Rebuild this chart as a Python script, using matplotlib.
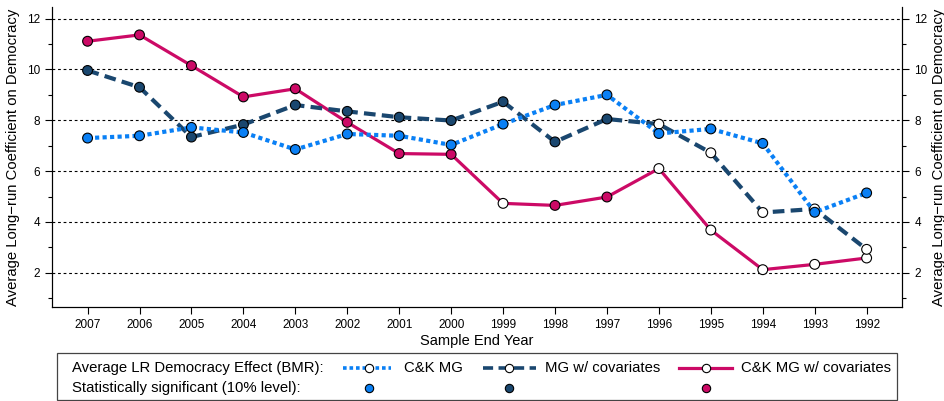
import matplotlib
matplotlib.use("Agg")
import matplotlib.pyplot as plt
from matplotlib.lines import Line2D
from matplotlib.patches import Rectangle

plt.rcParams['font.family'] = ['Liberation Sans', 'DejaVu Sans']

years = ['2007', '2006', '2005', '2004', '2003', '2002', '2001', '2000',
         '1999', '1998', '1997', '1996', '1995', '1994', '1993', '1992']

ck_mg = [7.30, 7.39, 7.72, 7.52, 6.85, 7.46, 7.39, 7.03,
         7.85, 8.60, 9.00, 7.48, 7.66, 7.09, 4.38, 5.14]
ck_mg_sig = [1, 1, 1, 1, 1, 1, 1, 1, 1, 1, 1, 1, 1, 1, 1, 1]

mg_cov = [9.96, 9.30, 7.34, 7.83, 8.60, 8.35, 8.12, 7.99,
          8.73, 7.15, 8.05, 7.85, 6.72, 4.37, 4.51, 2.92]
mg_cov_sig = [1, 1, 1, 1, 1, 1, 1, 1, 1, 1, 1, 0, 0, 0, 0, 0]

ck_mg_cov = [11.11, 11.36, 10.15, 8.92, 9.24, 7.92, 6.69, 6.66,
             4.73, 4.65, 4.98, 6.10, 3.68, 2.12, 2.33, 2.58]
ck_mg_cov_sig = [1, 1, 1, 1, 1, 1, 1, 1, 0, 1, 1, 0, 0, 0, 0, 0]

blue = '#0a80f5'
navy = '#1a476f'
red = '#cc0a66'

fig = plt.figure(figsize=(9.44, 4.01), dpi=100)
ax = fig.add_axes([0.0548, 0.2337, 0.9012, 0.7496])

x = list(range(len(years)))

series = [
    (ck_mg_cov, ck_mg_cov_sig, red, '-', 2.3),
    (mg_cov, mg_cov_sig, navy, (0, (2.8, 1.5)), 3.0),
    (ck_mg, ck_mg_sig, blue, (0, (1, 0.8)), 3.0),
]
z = 3
for vals, sig, col, ls, lw in series:
    ax.plot(x, vals, color=col, linestyle=ls, linewidth=lw, zorder=z)
    fc = [col if s else 'white' for s in sig]
    ax.scatter(x, vals, s=50, c=fc, edgecolors='black', linewidths=0.8, zorder=z + 0.5)
    z += 1

ax.set_xlim(-0.69, 15.69)
ax.set_ylim(0.64, 12.47)
ax.set_xticks(x)
ax.set_xticklabels(years, fontsize=8.5)
ax.set_yticks([2, 4, 6, 8, 10, 12])
ax.set_yticks([1, 3, 5, 7, 9, 11], minor=True)
ax.tick_params(axis='y', labelsize=8.5, length=5, width=0.8)
ax.tick_params(axis='y', which='minor', length=3, width=0.8)
ax.tick_params(axis='x', length=5, width=0.8)
ax.grid(axis='y', color='black', linestyle=(0, (2.5, 2.5)), linewidth=0.8)
ax.spines['top'].set_visible(False)
for s in ['left', 'right', 'bottom']:
    ax.spines[s].set_linewidth(0.8)

ylab = 'Average Long\u2212run Coefficient on Democracy'
ax.set_ylabel(ylab, fontsize=10.7, labelpad=5)
ax.set_xlabel('Sample End Year', fontsize=10.5, labelpad=2)

ax2 = ax.twinx()
ax2.set_ylim(ax.get_ylim())
ax2.set_yticks([2, 4, 6, 8, 10, 12])
ax2.set_yticks([1, 3, 5, 7, 9, 11], minor=True)
ax2.tick_params(axis='y', labelsize=8.5, length=5, width=0.8)
ax2.tick_params(axis='y', which='minor', length=3, width=0.8)
ax2.spines['top'].set_visible(False)
ax2.set_ylabel(ylab, fontsize=10.7, labelpad=3)

# legend box drawn by hand
fig.patches.append(Rectangle((0.0604, 0.0025), 0.8896, 0.1172, transform=fig.transFigure,
                             facecolor='white', edgecolor='#444444', linewidth=0.9))
r1, r2 = 0.083, 0.0324
fs = 10.7
fig.text(0.0763, r1, 'Average LR Democracy Effect (BMR):', fontsize=fs, va='center')
fig.text(0.0763, r2, 'Statistically significant (10% level):', fontsize=fs, va='center')

entries = [
    ('C&K MG', blue, (0, (1, 0.8)), 2.6, 0.363, 0.414, 0.391, 0.428),
    ('MG w/ covariates', navy, (0, (2.8, 1.5)), 2.6, 0.512, 0.568, 0.539, 0.577),
    ('C&K MG w/ covariates', red, '-', 2.3, 0.719, 0.775, 0.748, 0.785),
]
for lab, col, ls, lw, xa, xb, xm, xt in entries:
    fig.add_artist(Line2D([xa, xb], [r1, r1], transform=fig.transFigure,
                          color=col, linestyle=ls, linewidth=lw))
    fig.add_artist(Line2D([xm], [r1], transform=fig.transFigure, marker='o',
                          markersize=6, markerfacecolor='white', markeredgecolor='black',
                          markeredgewidth=0.8, linestyle='none'))
    fig.add_artist(Line2D([xm], [r2], transform=fig.transFigure, marker='o',
                          markersize=6, markerfacecolor=col, markeredgecolor='black',
                          markeredgewidth=0.8, linestyle='none'))
    fig.text(xt, r1, lab, fontsize=fs, va='center')

fig.savefig('out.png', dpi=100)
